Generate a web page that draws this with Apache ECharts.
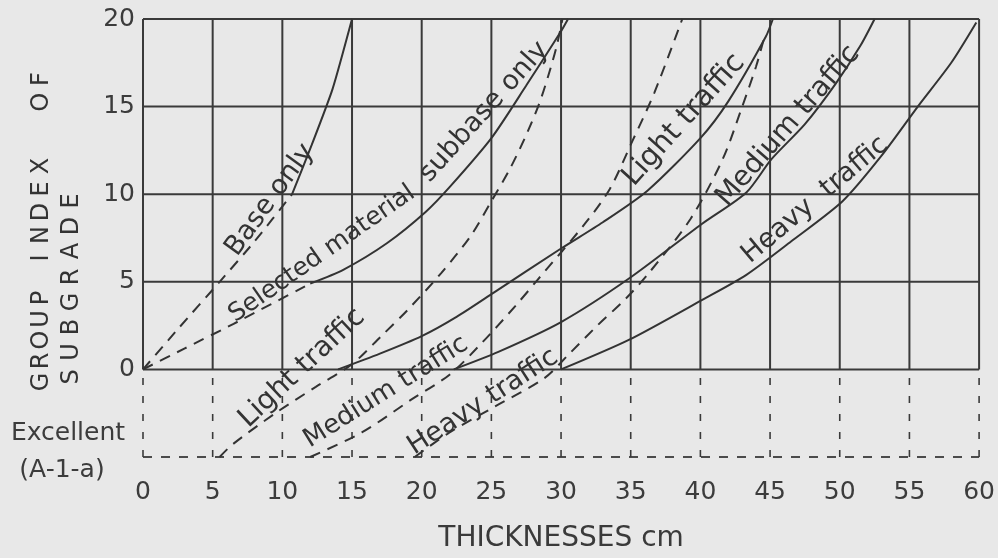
<!DOCTYPE html>
<html><head><meta charset="utf-8">
<script src="https://cdn.jsdelivr.net/npm/echarts@6/dist/echarts.min.js"></script>
<style>html,body{margin:0;padding:0;background:#e8e8e8}#c{width:998px;height:558px}</style>
</head><body><div id="c"></div>
<script>
// ---- axis ticks ----
const xTicks = [0,5,10,15,20,25,30,35,40,45,50,55,60];
const yTicks = [0,5,10,15,20];
const excellentLevel = -5;

// ---- curves (thickness cm, group index) ----
const baseDashX = [0, 2.5, 5.5, 8, 10.7];
const baseDashY = [0, 2.3, 5, 7.3, 10];
const baseSolidX = [10.7, 12.1, 13.6, 15];
const baseSolidY = [10, 12.8, 16, 20];

const selDashX = [0, 3, 6.5, 12];
const selDashY = [0, 1.2, 2.6, 4.9];
const selSolidX = [12, 14.4, 17.5, 20.3, 22, 25, 27.5, 30, 30.5];
const selSolidY = [4.9, 5.7, 7.2, 9.0, 10.4, 13.2, 16.2, 19.3, 20];

const lightSolidX = [14, 17, 20, 22.5, 25.2, 30, 33, 36.2, 40, 42, 44.7, 45.2];
const lightSolidY = [0, 0.9, 1.9, 3.0, 4.4, 6.9, 8.4, 10.2, 13.2, 15.3, 19, 20];

const mediumSolidX = [22.3, 25.5, 30, 34.9, 40.1, 43.3, 45.1, 47.5, 49.7, 51.5, 52.5];
const mediumSolidY = [0, 1.0, 2.7, 5.2, 8.3, 10.1, 12, 14, 16.3, 18.5, 20];

const heavySolidX = [30, 34.9, 40.2, 43.3, 46.5, 50.2, 53, 55.6, 58, 59.8];
const heavySolidY = [0, 1.7, 4.0, 5.4, 7.3, 9.6, 12.2, 15, 17.5, 19.8];

const lightDashX = [5.5, 6.4, 9.5, 12.4, 15, 17.1, 19, 21.4, 23.5, 25, 26.3, 27.4, 28.4, 29.1, 29.7, 30.1];
const lightDashY = [-5, -4.3, -2.5, -1, 0.3, 1.9, 3.4, 5.5, 7.6, 9.6, 11.4, 13.2, 15.1, 16.8, 18.5, 20];

const mediumDashX = [12, 15.7, 19.3, 22, 24.3, 26.7, 28.3, 31.7, 33.5, 35.1, 36.7, 38.7];
const mediumDashY = [-5, -3.6, -1.7, -0.3, 1.5, 3.6, 5.1, 8.3, 10.3, 13, 15.8, 20];

const heavyDashX = [19.5, 22, 25.3, 28.8, 30.6, 32.6, 34.6, 36.3, 39.3, 41.6, 43, 44, 44.6];
const heavyDashY = [-5, -3.6, -2.1, -0.5, 0.9, 2.5, 4, 5.5, 8.6, 12, 15, 17.3, 19];

const INK = '#333333';
const FONT = 'DejaVu Sans';

function pts(xs, ys){ return xs.map((x,i)=>[x, ys[i]]); }
function ln(data, opts){
  return Object.assign({
    type:'line', data, showSymbol:false, symbol:'none', silent:true,
    animation:false, smooth:0, z:3,
    lineStyle:{color:INK, width:2, type:'solid'}
  }, opts||{});
}

const series = [];
// grid lines
const yMax = yTicks[yTicks.length-1];
const xMax = xTicks[xTicks.length-1];
xTicks.forEach(x=>{
  series.push(ln([[x,0],[x,yMax]], {lineStyle:{color:'#3a3a3a', width:2}, z:2}));
  series.push(ln([[x,excellentLevel],[x,0]], {lineStyle:{color:'#3a3a3a', width:1.6, type:[7,11]}, z:2}));
});
yTicks.forEach(y=>{
  series.push(ln([[0,y],[xMax,y]], {lineStyle:{color:'#3a3a3a', width:2}, z:2}));
});
series.push(ln([[0,excellentLevel],[xMax,excellentLevel]], {lineStyle:{color:'#3a3a3a', width:1.8, type:[9,9]}, z:2}));

// curves
const dashed = {color:INK, width:2, type:[11,8]};
const solid = {color:INK, width:2};
series.push(ln(pts(baseDashX, baseDashY), {lineStyle:dashed, smooth:0.2}));
series.push(ln(pts(baseSolidX, baseSolidY), {lineStyle:solid, smooth:0.2}));
series.push(ln(pts(selDashX, selDashY), {lineStyle:dashed, smooth:0.2}));
series.push(ln(pts(selSolidX, selSolidY), {lineStyle:solid, smooth:0.25}));
series.push(ln(pts(lightSolidX, lightSolidY), {lineStyle:solid, smooth:0.25}));
series.push(ln(pts(mediumSolidX, mediumSolidY), {lineStyle:solid, smooth:0.25}));
series.push(ln(pts(heavySolidX, heavySolidY), {lineStyle:solid, smooth:0.25}));
series.push(ln(pts(lightDashX, lightDashY), {lineStyle:dashed, smooth:0.3}));
series.push(ln(pts(mediumDashX, mediumDashY), {lineStyle:dashed, smooth:0.3}));
series.push(ln(pts(heavyDashX, heavyDashY), {lineStyle:dashed, smooth:0.3}));

// text labels
function txt(text, x, y, deg, size, color){
  return {
    type:'text', x, y, rotation: deg*Math.PI/180, silent:true, z:10,
    style:{text, fontFamily:FONT, fontSize:size, fill:color||INK, align:'center', verticalAlign:'middle'}
  };
}
const graphics = [];
// curve labels
graphics.push(txt('Base only', 270, 200, 54, 27));
graphics.push(txt('Selected material', 322, 254, 35, 25));
graphics.push(txt('subbase only', 484, 112, 48, 27));
graphics.push(txt('Light traffic', 684, 120, 48, 29));
graphics.push(txt('Medium traffic', 788, 126, 49, 28));
graphics.push(txt('Heavy  traffic', 815, 200, 40, 27));
graphics.push(txt('Light traffic', 302, 368, 43, 28));
graphics.push(txt('Medium traffic', 386, 392, 32, 26));
graphics.push(txt('Heavy traffic', 483, 402, 33, 27));
// left labels
graphics.push(txt('Excellent', 68, 433, 0, 25, '#3c3c3c'));
graphics.push(txt('(A-1-a)', 62, 470, 0, 25, '#3c3c3c'));
// y-axis title, letter-spaced vertical text
const line1 = 'GROUP INDEX  OF';
const line1Pos = [382,361,340,319,298,0,258,235,212,189,166,0,0,102,79];
for (let i=0;i<line1.length;i++){ if(line1[i]!==' ') graphics.push(txt(line1[i], 42, line1Pos[i], 90, 24)); }
const line2 = 'SUBGRADE';
const line2Pos = [377,352,327,302,277,251,226,201];
for (let i=0;i<line2.length;i++){ graphics.push(txt(line2[i], 72, line2Pos[i], 90, 24)); }

const chart = echarts.init(document.getElementById('c'), null, {renderer:'canvas'});
chart.setOption({
  backgroundColor:'#e8e8e8',
  animation:false,
  grid:{left:143, right:16, top:19, bottom:100, containLabel:false},
  xAxis:{
    type:'value', min:0, max:60, interval:5,
    axisLine:{show:false}, axisTick:{show:false}, splitLine:{show:false},
    axisLabel:{color:'#3c3c3c', fontSize:25, fontFamily:FONT, margin:23},
    name:'THICKNESSES cm', nameLocation:'middle', nameGap:68,
    nameTextStyle:{color:'#3a3a3a', fontSize:28, fontFamily:FONT}
  },
  yAxis:{
    type:'value', min:excellentLevel, max:20, interval:5,
    axisLine:{show:false}, axisTick:{show:false}, splitLine:{show:false},
    axisLabel:{color:'#3c3c3c', fontSize:25, fontFamily:FONT, margin:8,
      formatter: v => (yTicks.indexOf(v) >= 0 ? String(v) : '')}
  },
  series,
  graphic: graphics
});
</script></body></html>
